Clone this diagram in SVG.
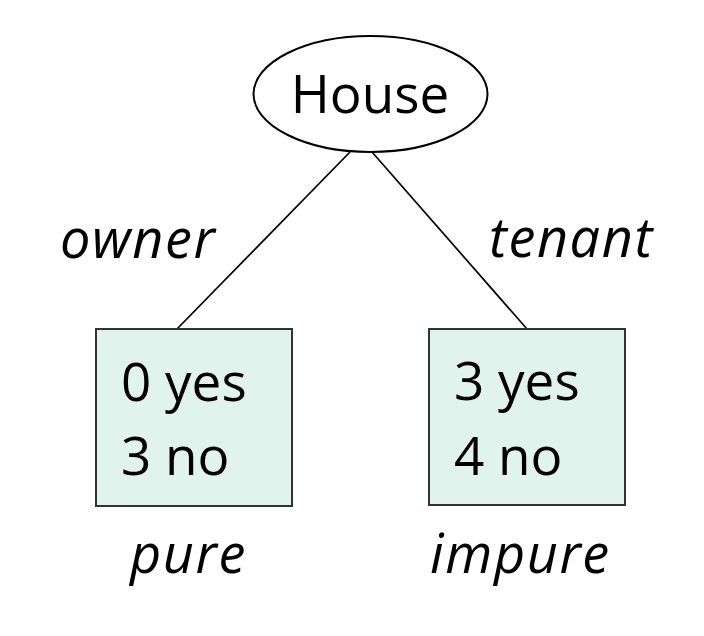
<svg xmlns="http://www.w3.org/2000/svg" width="704" height="636" viewBox="0 0 704 636">
<style>
.t{font-family:"Open Sans","Noto Sans","Liberation Sans",sans-serif;font-size:53px;fill:#000}
.i{font-style:italic;font-size:54px;letter-spacing:1.6px}
.box{fill:#e1f3ed;stroke:#333;stroke-width:2}
.edge{stroke:#000;stroke-width:1.7;fill:none}
</style>
<rect width="704" height="636" fill="#fff"/>
<g id="connectors">
<line class="edge" x1="350" y1="152" x2="177" y2="329"/>
<line class="edge" x1="372" y1="152" x2="527" y2="329"/>
</g>
<g id="house">
<ellipse cx="370.5" cy="94" rx="117" ry="58" fill="#fff" stroke="#000" stroke-width="2"/>
<text class="t" x="370" y="113" text-anchor="middle">House</text>
</g>
<g id="edge-labels">
<text class="t i" x="60" y="258">owner</text>
<text class="t i" x="489" y="257">tenant</text>
</g>
<g id="left-leaf">
<rect class="box" x="96" y="329" width="196" height="177"/>
<text class="t" x="121" y="401">0 yes</text>
<text class="t" x="121" y="475">3 no</text>
</g>
<g id="right-leaf">
<rect class="box" x="429" y="329" width="196" height="176"/>
<text class="t" x="454" y="400">3 yes</text>
<text class="t" x="454" y="475">4 no</text>
</g>
<g id="leaf-labels">
<text class="t i" x="130" y="573">pure</text>
<text class="t i" x="430" y="573">impure</text>
</g>
</svg>
